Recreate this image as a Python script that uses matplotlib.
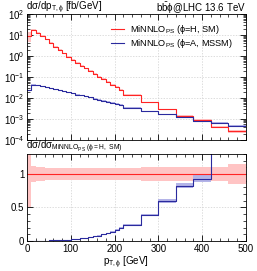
import numpy as np
import matplotlib
matplotlib.use('Agg')
import matplotlib.pyplot as plt
from matplotlib.ticker import MultipleLocator, LogLocator, NullFormatter

plt.rcParams['font.family'] = ['Liberation Sans', 'DejaVu Sans']
plt.rcParams['font.size'] = 7
plt.rcParams['mathtext.fontset'] = 'custom'
plt.rcParams['mathtext.rm'] = 'Liberation Sans'
plt.rcParams['mathtext.it'] = 'Liberation Sans:italic'
plt.rcParams['mathtext.sf'] = 'Liberation Sans'
plt.rcParams['mathtext.default'] = 'regular'

# bin edges in pT [GeV]
edges = [0, 10, 20, 30, 40, 50, 60, 70, 80, 90, 100, 110, 120, 130, 140, 150,
         160, 170, 180, 190, 200, 210, 220, 260, 300, 340, 380, 420, 460, 500]

# dsigma/dpT [fb/GeV], phi=H (SM)
xs_h = [9.3, 17.4, 13.2, 9.1, 6.3, 4.2, 2.8, 1.95, 1.35, 0.955, 0.676, 0.49,
        0.355, 0.257, 0.19, 0.141, 0.105, 0.079, 0.059, 0.044, 0.033, 0.025,
        0.0145, 0.0062, 0.0029, 0.00145, 0.00089, 0.00043, 0.00027]
# dsigma/dpT [fb/GeV], phi=A (MSSM)
xs_a = [0.024, 0.043, 0.041, 0.037, 0.033, 0.0295, 0.026, 0.0234, 0.0209,
        0.0186, 0.0166, 0.0148, 0.0135, 0.012, 0.0107, 0.0095, 0.0085, 0.0076,
        0.0068, 0.006, 0.0054, 0.0048,
        0.00347, 0.0024, 0.00174, 0.0012, 0.00083, 0.00068, 0.00048]
# relative scale uncertainties
unc_h = [0.5, 0.12, 0.11, 0.10, 0.09, 0.09, 0.09, 0.09, 0.09, 0.09, 0.09, 0.09,
         0.09, 0.09, 0.09, 0.09, 0.09, 0.09, 0.09, 0.09, 0.09, 0.09,
         0.09, 0.10, 0.10, 0.10, 0.10, 0.10, 0.15]
unc_a = [0.06] * 22 + [0.05, 0.05, 0.05, 0.05, 0.05, 0.06, 0.06]

red = '#ff2424'
blue = '#2a2a9e'
red_band = '#ffc4c4'
blue_band = '#b4b4e8'

e = np.array(edges, float)
h = np.array(xs_h)
a = np.array(xs_a)
uh = np.array(unc_h)
ua = np.array(unc_a)

def st(v):
    return np.append(v, v[-1])

fig = plt.figure(figsize=(2.57, 2.71), dpi=100)
ax1 = fig.add_axes([0.105, 0.483, 0.852, 0.465])
ax2 = fig.add_axes([0.105, 0.111, 0.852, 0.321])

# upper panel
ax1.fill_between(e, st(h * (1 - uh)), st(h * (1 + uh)), step='post', color=red_band, lw=0)
ax1.fill_between(e, st(a * (1 - ua)), st(a * (1 + ua)), step='post', color=blue_band, lw=0)
ax1.step(e, st(h), where='post', color=red, lw=0.8, label=r'MiNNLO$_{PS}$ ($\phi$=H, SM)')
ax1.step(e, st(a), where='post', color=blue, lw=0.8, label=r'MiNNLO$_{PS}$ ($\phi$=A, MSSM)')
ax1.set_yscale('log')
ax1.set_ylim(1e-4, 1e2)
ax1.set_xlim(0, 500)
ax1.yaxis.set_major_locator(LogLocator(base=10, numticks=10))
ax1.yaxis.set_minor_locator(LogLocator(base=10, subs=np.arange(2, 10), numticks=20))
ax1.yaxis.set_minor_formatter(NullFormatter())
ax1.set_xticklabels([])
ax1.legend(loc='upper right', bbox_to_anchor=(0.965, 0.975), frameon=False,
           handlelength=1.5, handletextpad=0.6, labelspacing=0.15, borderaxespad=0.2,
           fontsize=6.6)

# ratio panel
ref = h
ax2.fill_between(e, st(1 - uh), st(1 + uh), step='post', color=red_band, lw=0)
ax2.fill_between(e, st(a * (1 - ua) / ref), st(a * (1 + ua) / ref), step='post',
                 color=blue_band, lw=0)
ax2.step(e, st(h / ref), where='post', color=red, lw=0.8)
ax2.step(e, st(a / ref), where='post', color=blue, lw=0.8)
ax2.set_xlim(0, 500)
ax2.set_ylim(0, 1.3)
ax2.yaxis.set_minor_locator(MultipleLocator(0.1))
ax2.set_yticks([0, 0.5, 1])
ax2.set_yticklabels(['0', '0.5', '1'])

for ax in (ax1, ax2):
    ax.xaxis.set_major_locator(MultipleLocator(100))
    ax.xaxis.set_minor_locator(MultipleLocator(20))
    ax.tick_params(which='both', direction='in', top=True, right=True, pad=2)
    ax.tick_params(which='major', length=4, width=0.6)
    ax.tick_params(which='minor', length=2, width=0.5)
    ax.grid(True, which='major', color='#cfcfcf', lw=0.5, ls=(0, (2, 2)))
    ax.set_axisbelow(True)
    for s in ax.spines.values():
        s.set_linewidth(0.6)

ax2.set_xticks([0, 100, 200, 300, 400, 500])
ax2.set_xlabel(r'p$_{T,\phi}$ [GeV]', labelpad=1)
ax2.xaxis.set_label_coords(0.45, -0.16)

fig.text(0.103, 0.970, r'd$\sigma$/dp$_{T,\phi}$ [fb/GeV]', ha='left', va='center')
fig.text(0.957, 0.970, r'b$\bar{b}$$\phi$@LHC 13.6 TeV', ha='right', va='center')
fig.text(0.103, 0.458, r'd$\sigma$/d$\sigma_{MiNNLO_{PS}\ (\phi=H,\ SM)}$', ha='left', va='center')

fig.savefig('out.png', dpi=100)
